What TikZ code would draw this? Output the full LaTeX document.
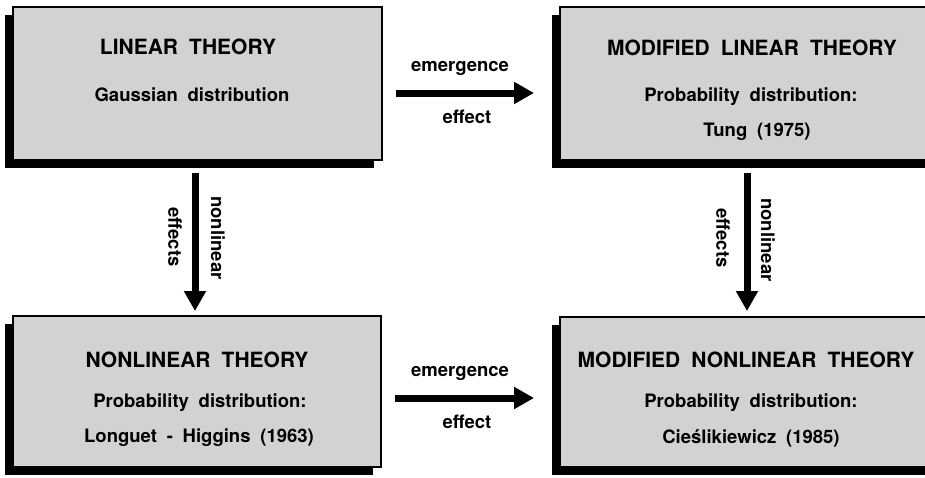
\documentclass[tikz,border=0pt]{standalone}
\usepackage{fontspec}
\setmainfont{TeX Gyre Heros}[WordSpace=1.9]
\usetikzlibrary{arrows.meta,shadows}
\definecolor{boxgray}{RGB}{210,210,210}
\tikzset{
  theorybox/.style={draw=black, line width=1.2pt, fill=boxgray, inner sep=0pt,
    general shadow={fill=black, shadow xshift=-8pt, shadow yshift=-8pt}},
  ttl/.style={font=\bfseries\fontsize{21}{24}\selectfont, inner sep=0pt},
  sub/.style={font=\bfseries\fontsize{18.5}{22}\selectfont, inner sep=0pt},
  lbl/.style={font=\bfseries\fontsize{18.5}{22}\selectfont, inner sep=0pt},
  bigarrow/.style={line width=7pt, -{Triangle[length=20pt,width=21pt]}}
}
\begin{document}
\begin{tikzpicture}[x=1pt,y=-1pt]
\useasboundingbox (0,0) rectangle (925,477);
\clip (0,0) rectangle (925,477);
\fill[white] (0,0) rectangle (925,477);
% boxes
\node[theorybox, minimum width=369pt, minimum height=153pt] (b1) at (197.5,83.5) {};
\node[theorybox, minimum width=375pt, minimum height=153pt] (b2) at (747.5,83.5) {};
\node[theorybox, minimum width=368pt, minimum height=151pt] (b3) at (197,391.5) {};
\node[theorybox, minimum width=375pt, minimum height=150pt] (b4) at (747.5,392) {};
% texts
\node[ttl] (t1) at (188,47) {LINEAR THEORY};
\node[sub] (s1) at (192,95) {Gaussian distribution};
\node[ttl] (t2) at (752,48) {MODIFIED LINEAR THEORY};
\node[sub] (s2) at (751,97) {Probability distribution:};
\node[sub] (r2) at (757,132) {Tung (1975)};
\node[ttl] (t3) at (197,360) {NONLINEAR THEORY};
\node[sub] (s3) at (200,403) {Probability distribution:};
\node[sub] (r3) at (199,438) {Longuet - Higgins (1963)};
\node[ttl] (t4) at (746,360) {MODIFIED NONLINEAR THEORY};
\node[sub] (s4) at (751,403) {Probability distribution:};
\node[sub] (r4) at (751,438) {Cieślikiewicz (1985)};
% arrow end points
\coordinate (h1s) at (396,93);
\coordinate (h1e) at (534,93);
\coordinate (h2s) at (395,398);
\coordinate (h2e) at (534,398);
\coordinate (v1s) at (195,173);
\coordinate (v1e) at (195,311);
\coordinate (v2s) at (747,173);
\coordinate (v2e) at (747,311);
% arrows
\draw[bigarrow] (h1s) -- (h1e);
\draw[bigarrow] (h2s) -- (h2e);
\draw[bigarrow] (v1s) -- (v1e);
\draw[bigarrow] (v2s) -- (v2e);
% labels
\node[lbl] (l1) at (460,68) {emergence};
\node[lbl] (l2) at (467,117) {effect};
\node[lbl] (l3) at (460,373) {emergence};
\node[lbl] (l4) at (467,422) {effect};
\node[lbl, rotate=-90] (l5) at (175,237) {effects};
\node[lbl, rotate=-90] (l6) at (218,238) {nonlinear};
\node[lbl, rotate=-90] (l7) at (723,238) {effects};
\node[lbl, rotate=-90] (l8) at (768,240) {nonlinear};
\end{tikzpicture}
\end{document}
